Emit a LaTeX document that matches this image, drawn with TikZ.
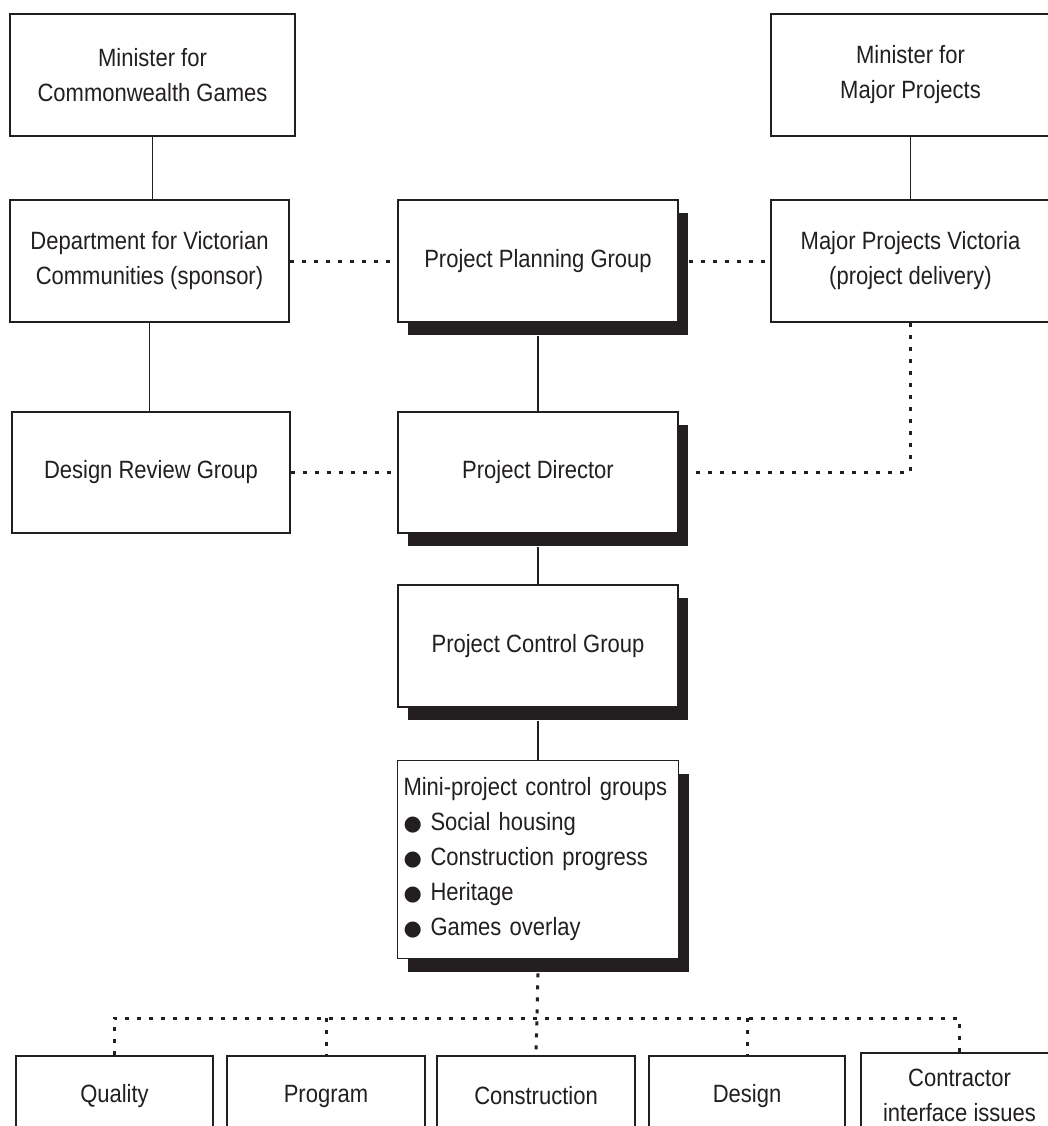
\documentclass[tikz,border=0pt]{standalone}
\usepackage{fontspec}
\setmainfont{Liberation Sans}[FakeStretch=0.88]
\newfontfamily\bltfont{DejaVu Sans}
\usetikzlibrary{shadows}
\definecolor{ink}{HTML}{231F20}
\newcommand\blt{\makebox[27pt][l]{\bltfont\fontsize{21}{21}\selectfont ●}}
\tikzset{
  box/.style={draw=ink, line width=1.8pt, fill=white, text=ink, align=center,
    inner sep=0pt, font=\fontsize{25}{35}\selectfont},
  sbox/.style={box, drop shadow={shadow xshift=10pt, shadow yshift=-13pt, opacity=1, fill=ink}},
  solidline/.style={draw=ink, line width=1.6pt},
  dotline/.style={draw=ink, line width=3pt, dash pattern=on 4pt off 8pt},
}
\begin{document}
\begin{tikzpicture}[x=1pt, y=-1pt]
\useasboundingbox (0,0) rectangle (1048,1126);
\fill[white] (0,0) rectangle (1048,1126);
\clip (0,0) rectangle (1048,1126);

% top row
\node[box, minimum width=285pt, minimum height=122pt] (mcg) at (152.5,75) {Minister for\\Commonwealth Games};
\node[box, minimum width=279pt, minimum height=122pt] (mmp) at (910.5,75) {Minister for\\Major Projects};

% second row
\node[box, minimum width=279pt, minimum height=122pt] (dvc) at (149.5,261) {Department for Victorian\\Communities (sponsor)};
\node[sbox, minimum width=280pt, minimum height=122pt] (ppg) at (538,261) {Project Planning Group};
\node[box, minimum width=279pt, minimum height=122pt] (mpv) at (910.5,261) {Major Projects Victoria\\(project delivery)};

% third row
\node[box, minimum width=278pt, minimum height=121pt] (drg) at (151,472.5) {Design Review Group};
\node[sbox, minimum width=280pt, minimum height=121pt] (pd) at (538,472.5) {Project Director};

% control groups
\node[sbox, minimum width=280pt, minimum height=122pt] (pcg) at (538,646) {Project Control Group};
\node[sbox, minimum width=281pt, minimum height=198pt, text width=269pt, align=left] (mini) at (538,859.5)
  {Mini-project control groups\\\blt Social housing\\\blt Construction progress\\\blt Heritage\\\blt Games overlay};

% bottom row
\node[box, minimum width=197pt, minimum height=80pt] (qb) at (114.5,1096) {Quality};
\node[box, minimum width=198pt, minimum height=80pt] (pb) at (326,1096) {Program};
\node[box, minimum width=198pt, minimum height=80pt] (cb) at (536,1096) {Construction};
\node[box, minimum width=196pt, minimum height=80pt] (db) at (747,1096) {Design};
\node[box, minimum width=197pt, minimum height=84pt] (cib) at (959.5,1095) {Contractor\\interface issues};

% solid connectors
\draw[solidline] (mcg.south) -- (mcg.south |- dvc.north);
\draw[solidline] (dvc.south) -- (dvc.south |- drg.north);
\draw[solidline] (mmp.south) -- (mpv.north);
\draw[solidline] ([yshift=-13pt]ppg.south) -- (pd.north);
\draw[solidline] ([yshift=-13pt]pd.south) -- (pcg.north);
\draw[solidline] ([yshift=-13pt]pcg.south) -- (mini.north);

% dotted connectors
\draw[dotline] (dvc.east) -- (ppg.west);
\draw[dotline] ([xshift=10pt]ppg.east) -- (mpv.west);
\draw[dotline] (drg.east) -- (pd.west);
\draw[dotline] (mpv.south) |- ([xshift=10pt]pd.east);

\coordinate (bus) at (537,1018);
\draw[dotline] ([yshift=-14pt]mini.south) -- (cb.north);
\draw[dotline] (qb.north) -- (qb.north |- bus) -- (cib.north |- bus) -- (cib.north);
\draw[dotline] (pb.north |- bus) -- (pb.north);
\draw[dotline] (db.north |- bus) -- (db.north);
\end{tikzpicture}
\end{document}
